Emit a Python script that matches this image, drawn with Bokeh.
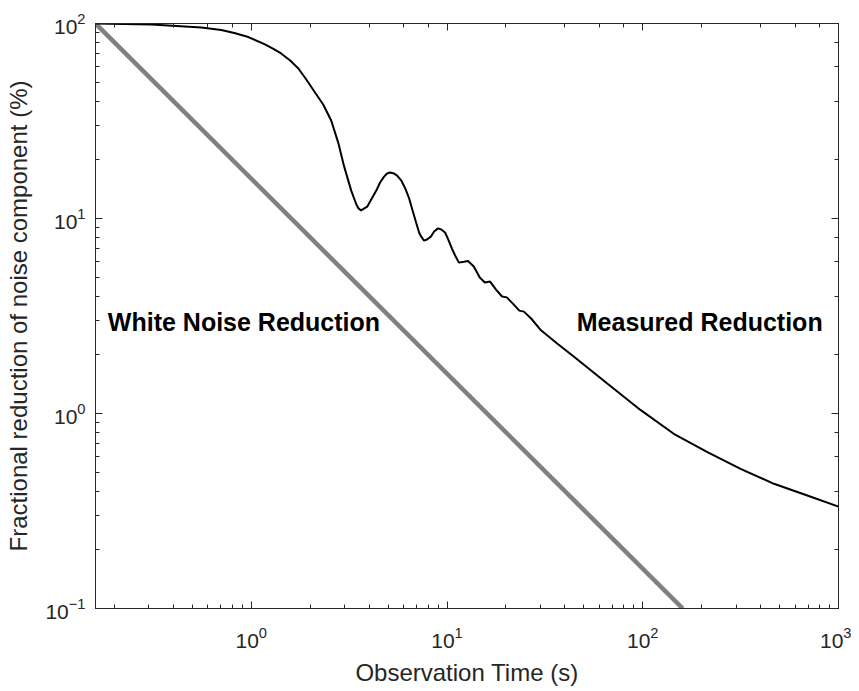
from bokeh.plotting import figure
from bokeh.models import LogAxis, Label, Range1d, LogTicker
from bokeh.embed import file_html
from bokeh.resources import INLINE

# ---- data ----
measured_time_s = [0.16, 0.309, 0.556, 0.703, 0.819, 0.966, 1.16, 1.29, 1.42, 1.58,
                   1.74, 1.91, 2.10, 2.33,
                   2.56, 2.78, 2.98, 3.24, 3.43, 3.52, 3.64, 3.91, 4.35,
                   4.55, 4.77, 4.94, 5.12, 5.37, 5.56, 5.83, 6.11, 6.4, 6.72,
                   6.95, 7.2, 7.37, 7.63, 7.9, 8.28, 8.59, 9.0, 9.31, 9.77,
                   10.1, 10.6, 11.0, 11.5, 12.2, 12.8, 13.7, 14.7, 15.6, 16.6,
                   17.8, 19.1, 20.2, 21.7, 23.4, 24.7, 26.9, 30.2, 36.4, 44.7,
                   66.1, 97.7, 144, 214, 316, 468, 693, 1000]
measured_pct = [100, 98.8, 95.4, 92.6, 89.3, 85.2, 78.6, 74.4, 70.2, 64.6,
                58.8, 51.6, 44.8, 38.4,
                31.8, 24.5, 18.5, 13.9, 11.9, 11.3, 11.0, 11.5, 13.9,
                15.3, 16.4, 17.0, 17.2, 17.0, 16.6, 15.7, 14.3, 12.7, 10.7,
                9.53, 8.48, 8.09, 7.7, 7.8, 8.09, 8.57, 8.9, 8.8, 8.48,
                7.89, 7.0, 6.46, 5.94, 6.0, 6.06, 5.67, 4.98, 4.7, 4.75,
                4.32, 3.98, 3.94, 3.66, 3.37, 3.33, 3.07, 2.67, 2.29, 1.95,
                1.42, 1.04, 0.787, 0.634, 0.52, 0.436, 0.38, 0.333]

white_time_s = [0.16, 160]
white_pct = [100, 0.1]

annotation_texts = ["White Noise Reduction", "Measured Reduction"]
x_title = "Observation Time (s)"
y_title = "Fractional reduction of noise component (%)"

AX = "#262626"
FONT = "Liberation Sans"

p = figure(width=851, height=691, x_axis_type="log", y_axis_type="log",
           x_range=Range1d(0.16, 1000), y_range=Range1d(0.1, 100),
           output_backend="svg", toolbar_location=None,
           min_border_left=95, min_border_right=13, min_border_top=23, min_border_bottom=83)
p.background_fill_color = "white"
p.border_fill_color = "white"
p.outline_line_color = AX
p.outline_line_width = 1
p.xgrid.visible = False
p.ygrid.visible = False


def style_axis(ax, labels=True):
    ax.axis_line_color = AX
    ax.axis_line_width = 1
    ax.major_tick_line_color = AX
    ax.minor_tick_line_color = AX
    ax.major_tick_in = 7
    ax.major_tick_out = 0
    ax.minor_tick_in = 4
    ax.minor_tick_out = 0
    ax.major_label_text_font = FONT
    ax.major_label_text_color = AX
    if labels:
        ax.major_label_text_font_size = "21px"
    else:
        ax.major_label_text_font_size = "1px"
        ax.major_label_text_alpha = 0
        ax.major_label_standoff = 0


xa = p.xaxis[0]
ya = p.yaxis[0]
style_axis(xa)
style_axis(ya)
xa.major_label_standoff = 18
ya.major_label_standoff = 10
xa.axis_label = x_title
ya.axis_label = y_title
for a in (xa, ya):
    a.axis_label_text_font = FONT
    a.axis_label_text_font_size = "24px"
    a.axis_label_text_font_style = "normal"
    a.axis_label_text_color = AX
xa.axis_label_standoff = 8
ya.axis_label_standoff = 10

top_ax = LogAxis(ticker=LogTicker())
right_ax = LogAxis(ticker=LogTicker())
style_axis(top_ax, labels=False)
style_axis(right_ax, labels=False)
p.add_layout(top_ax, "above")
p.add_layout(right_ax, "right")

p.line(white_time_s, white_pct, line_color="#808080", line_width=4.5)
p.line(measured_time_s, measured_pct, line_color="black", line_width=2)

p.add_layout(Label(x=0.185, y=2.93, text=annotation_texts[0], text_font=FONT,
                   text_font_size="25px", text_font_style="bold", text_color="black",
                   text_align="left", text_baseline="middle"))
p.add_layout(Label(x=830, y=2.93, text=annotation_texts[1], text_font=FONT,
                   text_font_size="25px", text_font_style="bold", text_color="black",
                   text_align="right", text_baseline="middle"))

open("out.html", "w").write(file_html(p, INLINE))
